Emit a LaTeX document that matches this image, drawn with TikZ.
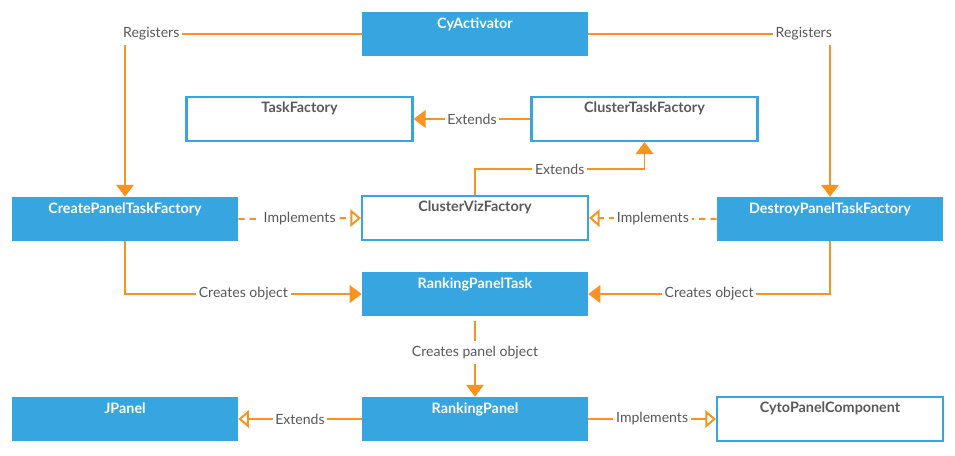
\documentclass[tikz,border=0pt]{standalone}
\usepackage{fontspec}
\setmainfont{Lato}
\usepackage{xcolor}
\usepackage{tikz}
\usetikzlibrary{arrows.meta}

\definecolor{boxblue}{HTML}{36A5E0}
\definecolor{linkorange}{HTML}{F7931E}
\definecolor{textgray}{HTML}{595959}

\tikzset{
  classbox/.style={fill=boxblue, minimum width=5.65cm, minimum height=1.1cm,
    label={[anchor=north, inner sep=4.3pt, font=\fontsize{10.2}{12}\selectfont\bfseries, text=white]north:#1}},
  ifacebox/.style={draw=boxblue, line width=1.5pt, fill=white, minimum width=5.65cm, minimum height=1.1cm,
    label={[anchor=north, inner sep=4pt, font=\fontsize{10.2}{12}\selectfont\bfseries, text=textgray]north:#1}},
  link/.style={color=linkorange, line width=1.4pt},
  solidhead/.style={-{Triangle[length=8.5pt, width=12.5pt]}},
  openhead/.style={-{Triangle[open, length=7.5pt, width=12.5pt, fill=white]}},
  linklabel/.style={fill=white, text=textgray, font=\fontsize{10}{12}\selectfont, inner xsep=2pt, inner ysep=3.5pt}
}

\begin{document}
\begin{tikzpicture}[x=0.025cm, y=-0.025cm]
\useasboundingbox (0,0) rectangle (955,455);
% classes, in pixel coordinates of the sketch
\node[classbox=CyActivator] (cyact) at (475, 34) {};
\node[ifacebox=TaskFactory] (tf) at (299.5, 119) {};
\node[ifacebox=ClusterTaskFactory] (ctf) at (644.5, 119) {};
\node[classbox=CreatePanelTaskFactory] (cptf) at (125, 219) {};
\node[ifacebox=ClusterVizFactory] (cvf) at (475, 218) {};
\node[classbox=DestroyPanelTaskFactory] (dptf) at (830, 219) {};
\node[classbox=RankingPanelTask] (rpt) at (475, 294) {};
\node[classbox=JPanel] (jp) at (125, 419) {};
\node[classbox=RankingPanel] (rp) at (475, 419) {};
\node[ifacebox=CytoPanelComponent] (cpc) at (830, 419) {};
% registration
\draw[link, solidhead] (cyact.west) -| node[linklabel, pos=0.5, anchor=west, xshift=-4pt] {Registers} (cptf.north);
\draw[link, solidhead] (cyact.east) -| node[linklabel, pos=0.5, anchor=east, xshift=4pt] {Registers} (dptf.north);
% inheritance
\draw[link, solidhead] (ctf.west) -- node[linklabel] {Extends} (tf.east);
\draw[link, solidhead] (cvf.north) -- ++(0,-26) -| node[linklabel, pos=0.25] {Extends} (ctf.south);
\draw[link, openhead, dash pattern=on 4.5pt off 3.5pt] (cptf.east) -- node[linklabel] {Implements} (cvf.west);
\draw[link, openhead, dash pattern=on 4.5pt off 3.5pt] (dptf.west) -- node[linklabel] {Implements} (cvf.east);
% object creation
\draw[link, solidhead] (cptf.south) |- node[linklabel, pos=0.75] {Creates object} (rpt.west);
\draw[link, solidhead] (dptf.south) |- node[linklabel, pos=0.75] {Creates object} (rpt.east);
\draw[link, solidhead, shorten <=3pt] (rpt.south) -- node[linklabel, pos=0.45] {Creates panel object} (rp.north);
% panel
\draw[link, openhead] (rp.west) -- node[linklabel] {Extends} (jp.east);
\draw[link, openhead] (rp.east) -- node[linklabel] {Implements} (cpc.west);
\end{tikzpicture}
\end{document}
